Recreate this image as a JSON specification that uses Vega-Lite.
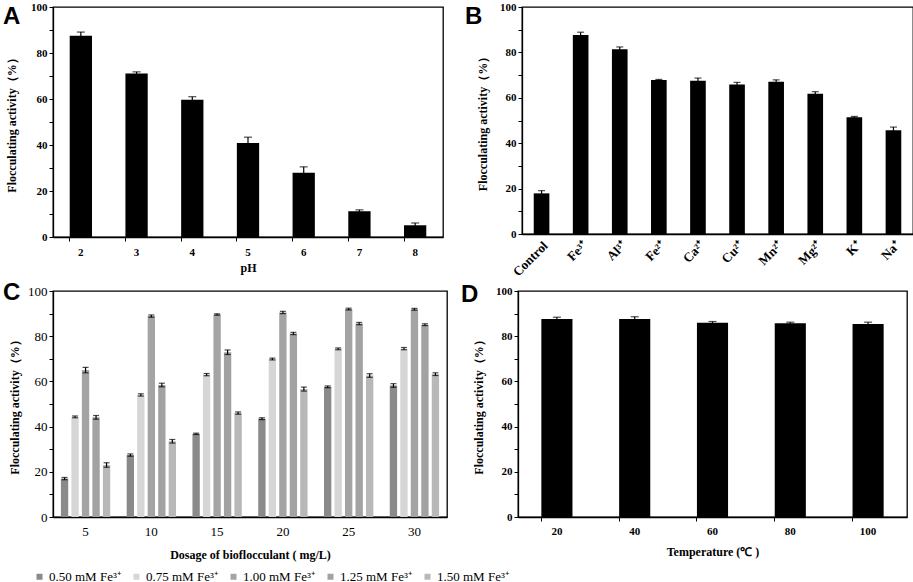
{
  "$schema": "https://vega.github.io/schema/vega-lite/v6.json",
  "padding": {"left": 2, "top": 0, "right": 2, "bottom": 0},
  "background": "white",
  "datasets": {
    "ph": [
      {"pH": "2", "value": 87.5, "err": 1.6},
      {"pH": "3", "value": 71.1, "err": 0.7},
      {"pH": "4", "value": 59.7, "err": 1.3},
      {"pH": "5", "value": 40.9, "err": 2.5},
      {"pH": "6", "value": 27.9, "err": 2.6},
      {"pH": "7", "value": 11.2, "err": 0.6},
      {"pH": "8", "value": 5.1, "err": 1.0}
    ],
    "ions": [
      {"ion": "Control", "value": 17.9, "err": 1.2},
      {"ion": "Fe³⁺", "value": 87.7, "err": 1.2},
      {"ion": "Al³⁺", "value": 81.4, "err": 1.0},
      {"ion": "Fe²⁺", "value": 67.8, "err": 0.3},
      {"ion": "Ca²⁺", "value": 67.5, "err": 1.2},
      {"ion": "Cu²⁺", "value": 65.9, "err": 0.9},
      {"ion": "Mn²⁺", "value": 67.1, "err": 0.8},
      {"ion": "Mg²⁺", "value": 61.8, "err": 0.9},
      {"ion": "K⁺", "value": 51.4, "err": 0.4},
      {"ion": "Na⁺", "value": 45.7, "err": 1.4}
    ],
    "dosage": [
      {"dose": "5", "conc": "0.50 mM Fe³⁺", "value": 17.0, "err": 0.5},
      {"dose": "5", "conc": "0.75 mM Fe³⁺", "value": 44.3, "err": 0.4},
      {"dose": "5", "conc": "1.00 mM Fe³⁺", "value": 65.0, "err": 1.2},
      {"dose": "5", "conc": "1.25 mM Fe³⁺", "value": 44.1, "err": 0.8},
      {"dose": "5", "conc": "1.50 mM Fe³⁺", "value": 23.0, "err": 1.0},
      {"dose": "10", "conc": "0.50 mM Fe³⁺", "value": 27.4, "err": 0.5},
      {"dose": "10", "conc": "0.75 mM Fe³⁺", "value": 54.0, "err": 0.5},
      {"dose": "10", "conc": "1.00 mM Fe³⁺", "value": 88.9, "err": 0.5},
      {"dose": "10", "conc": "1.25 mM Fe³⁺", "value": 58.4, "err": 0.8},
      {"dose": "10", "conc": "1.50 mM Fe³⁺", "value": 33.5, "err": 0.8},
      {"dose": "15", "conc": "0.50 mM Fe³⁺", "value": 36.8, "err": 0.3},
      {"dose": "15", "conc": "0.75 mM Fe³⁺", "value": 63.0, "err": 0.5},
      {"dose": "15", "conc": "1.00 mM Fe³⁺", "value": 89.6, "err": 0.3},
      {"dose": "15", "conc": "1.25 mM Fe³⁺", "value": 72.9, "err": 1.0},
      {"dose": "15", "conc": "1.50 mM Fe³⁺", "value": 46.0, "err": 0.5},
      {"dose": "20", "conc": "0.50 mM Fe³⁺", "value": 43.5, "err": 0.4},
      {"dose": "20", "conc": "0.75 mM Fe³⁺", "value": 69.9, "err": 0.4},
      {"dose": "20", "conc": "1.00 mM Fe³⁺", "value": 90.5, "err": 0.5},
      {"dose": "20", "conc": "1.25 mM Fe³⁺", "value": 81.2, "err": 0.5},
      {"dose": "20", "conc": "1.50 mM Fe³⁺", "value": 56.6, "err": 0.9},
      {"dose": "25", "conc": "0.50 mM Fe³⁺", "value": 57.6, "err": 0.4},
      {"dose": "25", "conc": "0.75 mM Fe³⁺", "value": 74.4, "err": 0.4},
      {"dose": "25", "conc": "1.00 mM Fe³⁺", "value": 92.0, "err": 0.4},
      {"dose": "25", "conc": "1.25 mM Fe³⁺", "value": 85.6, "err": 0.5},
      {"dose": "25", "conc": "1.50 mM Fe³⁺", "value": 62.6, "err": 0.8},
      {"dose": "30", "conc": "0.50 mM Fe³⁺", "value": 58.2, "err": 0.8},
      {"dose": "30", "conc": "0.75 mM Fe³⁺", "value": 74.5, "err": 0.5},
      {"dose": "30", "conc": "1.00 mM Fe³⁺", "value": 91.9, "err": 0.4},
      {"dose": "30", "conc": "1.25 mM Fe³⁺", "value": 85.1, "err": 0.4},
      {"dose": "30", "conc": "1.50 mM Fe³⁺", "value": 63.2, "err": 0.6}
    ],
    "temp": [
      {"temp": "20", "value": 87.6, "err": 0.8},
      {"temp": "40", "value": 87.6, "err": 1.0},
      {"temp": "60", "value": 86.0, "err": 0.5},
      {"temp": "80", "value": 85.7, "err": 0.5},
      {"temp": "100", "value": 85.4, "err": 0.8}
    ]
  },
  "vconcat": [
    {
      "hconcat": [
        {
          "title": {"text": "A", "anchor": "start", "frame": "group", "dx": -50, "dy": 28, "offset": 0},
          "data": {"name": "ph"},
          "width": 390,
          "height": 230,
          "encoding": {
            "x": {"field": "pH", "type": "ordinal", "sort": null, "title": "pH",
              "scale": {"paddingInner": 0.6, "paddingOuter": 0.3},
              "axis": {"labelAngle": 0, "bandPosition": 0, "tickSize": 4, "labelPadding": 5, "titlePadding": 5}},
            "y": {"field": "value", "type": "quantitative", "scale": {"domain": [0, 100]},
              "title": "Flocculating activity（%）",
              "axis": {"values": [0, 10, 20, 30, 40, 50, 60, 70, 80, 90, 100], "labelExpr": "datum.value % 20 == 0 ? datum.label : ''", "tickSize": 4, "titlePadding": 12}}
          },
          "layer": [
            {"mark": {"type": "bar", "color": "black"}},
            {
              "mark": {"type": "errorbar", "color": "black", "ticks": {"size": 8, "thickness": 1.2}, "thickness": 1.2},
              "encoding": {"yError": {"field": "err"}}
            }
          ]
        },
        {
          "title": {"text": "B", "anchor": "start", "frame": "group", "dx": -57, "dy": 28, "offset": 0},
          "data": {"name": "ions"},
          "width": 391,
          "height": 227,
          "encoding": {
            "x": {"field": "ion", "type": "nominal", "sort": null, "title": null,
              "scale": {"paddingInner": 0.6, "paddingOuter": 0.3},
              "axis": {"labelAngle": -45, "ticks": false, "labelPadding": 5, "labelFontSize": 13}},
            "y": {"field": "value", "type": "quantitative", "scale": {"domain": [0, 100]},
              "title": "Flocculating activity（%）",
              "axis": {"values": [0, 10, 20, 30, 40, 50, 60, 70, 80, 90, 100], "labelExpr": "datum.value % 20 == 0 ? datum.label : ''", "tickSize": 4, "titlePadding": 10}}
          },
          "layer": [
            {"mark": {"type": "bar", "color": "black"}},
            {
              "mark": {"type": "errorbar", "color": "black", "ticks": {"size": 7, "thickness": 1.2}, "thickness": 1.2},
              "encoding": {"yError": {"field": "err"}}
            }
          ]
        }
      ]
    },
    {
      "hconcat": [
        {
          "title": {"text": "C", "anchor": "start", "frame": "group", "dx": -50, "dy": 20, "offset": 0},
          "data": {"name": "dosage"},
          "width": 394,
          "height": 226,
          "encoding": {
            "x": {"field": "dose", "type": "ordinal", "sort": null, "title": "Dosage of bioflocculant ( mg/L)",
              "scale": {"paddingInner": 0.25, "paddingOuter": 0.12},
              "axis": {"labelAngle": 0, "ticks": false, "labelFontWeight": "normal", "labelFontSize": 13, "labelPadding": 8, "titleFontSize": 12, "titlePadding": 11}},
            "xOffset": {"field": "conc", "type": "nominal", "sort": null, "scale": {"paddingInner": 0.3}},
            "y": {"field": "value", "type": "quantitative", "scale": {"domain": [0, 100]},
              "title": "Flocculating activity（%）",
              "axis": {"values": [0, 10, 20, 30, 40, 50, 60, 70, 80, 90, 100], "labelExpr": "datum.value % 20 == 0 ? datum.label : ''", "tickSize": 4, "labelFontWeight": "normal", "labelFontSize": 13, "titleFontSize": 12, "titlePadding": 6}}
          },
          "layer": [
            {
              "mark": {"type": "bar"},
              "encoding": {
                "color": {"field": "conc", "type": "nominal", "sort": null, "title": null,
                  "scale": {"range": ["#8a8a8a", "#d6d6d6", "#a4a4a4", "#a2a2a2", "#b8b8b8"]},
                  "legend": {"orient": "none", "legendX": -20, "legendY": 563, "direction": "horizontal", "symbolType": "square", "symbolSize": 36, "labelOffset": 3, "labelFont": "Liberation Serif", "labelFontSize": 13, "labelColor": "black", "columnPadding": 9, "symbolStrokeWidth": 0}}
              }
            },
            {
              "mark": {"type": "errorbar", "color": "black", "ticks": {"size": 6, "thickness": 1.2}, "thickness": 1.2},
              "encoding": {"yError": {"field": "err"}}
            }
          ]
        },
        {
          "title": {"text": "D", "anchor": "start", "frame": "group", "dx": -57, "dy": 22, "offset": 0},
          "data": {"name": "temp"},
          "width": 389,
          "height": 226,
          "encoding": {
            "x": {"field": "temp", "type": "ordinal", "sort": null, "title": "Temperature (℃ )",
              "scale": {"paddingInner": 0.6, "paddingOuter": 0.3},
              "axis": {"labelAngle": 0, "bandPosition": 0, "tickSize": 4, "labelPadding": 4, "titleFontSize": 12, "titlePadding": 10}},
            "y": {"field": "value", "type": "quantitative", "scale": {"domain": [0, 100]},
              "title": "Flocculating activity（%）",
              "axis": {"values": [0, 10, 20, 30, 40, 50, 60, 70, 80, 90, 100], "labelExpr": "datum.value % 20 == 0 ? datum.label : ''", "tickSize": 4, "titlePadding": 10}}
          },
          "layer": [
            {"mark": {"type": "bar", "color": "black"}},
            {
              "mark": {"type": "errorbar", "color": "black", "ticks": {"size": 8, "thickness": 1.2}, "thickness": 1.2},
              "encoding": {"yError": {"field": "err"}}
            }
          ]
        }
      ],
      "spacing": 12
    }
  ],
  "spacing": 0,
  "config": {
    "view": {"stroke": "black", "strokeWidth": 1.3},
    "concat": {"spacing": 20},
    "axis": {
      "grid": false,
      "domainColor": "black",
      "domainWidth": 1.3,
      "tickColor": "black",
      "labelColor": "black",
      "titleColor": "black",
      "labelFont": "Liberation Serif",
      "titleFont": "Liberation Serif",
      "labelFontWeight": "bold",
      "titleFontWeight": "bold",
      "labelFontSize": 11,
      "titleFontSize": 12
    },
    "title": {"font": "Liberation Sans", "fontSize": 24, "fontWeight": "bold", "color": "black", "baseline": "bottom"}
  }
}
